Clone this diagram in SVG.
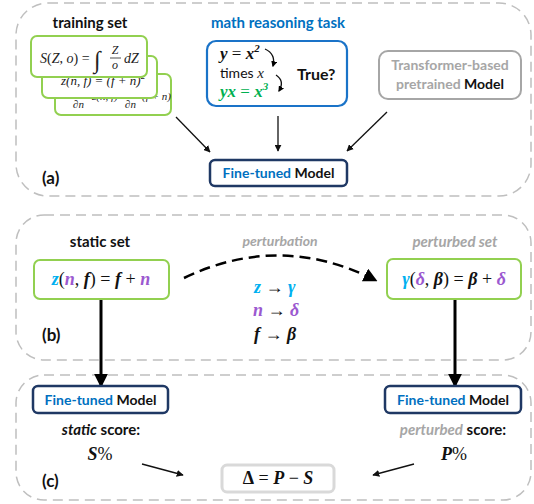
<svg xmlns="http://www.w3.org/2000/svg" width="534" height="504" viewBox="0 0 534 504">
<defs>
<style>
.panel{fill:none;stroke:#bfbfbf;stroke-width:1.5;stroke-dasharray:10 6}
.lbl{font-family:Lato,"Liberation Sans",sans-serif;font-weight:bold;fill:#111}
.m{font-family:"Liberation Serif","DejaVu Serif",serif;font-style:italic;font-weight:bold;fill:#111}
.mr{font-style:normal;font-weight:normal}
.card{fill:#fff;stroke:#92d050;stroke-width:2}
.tm{font-family:"Liberation Serif","DejaVu Serif",serif;fill:#222}
.ft{fill:#fff;stroke:#1f3864;stroke-width:2.5}
.blue{fill:#0070c0}
.cyan{fill:#00b0f0}
.purp{fill:#9b59d0}
.grey{fill:#a6a6a6}
.green{fill:#00b050}
.norm{font-weight:normal}
.thin{fill:none;stroke:#111;stroke-width:1.3}
.thick{fill:none;stroke:#000;stroke-width:3}
</style>
<marker id="ah" viewBox="0 0 10 10" refX="9" refY="5" markerWidth="7" markerHeight="7" orient="auto" markerUnits="userSpaceOnUse">
<path d="M0,0 L10,5 L0,10 Z" fill="#111"/>
</marker>
<marker id="ahb" viewBox="0 0 10 10" refX="8" refY="5" markerWidth="14" markerHeight="14" orient="auto" markerUnits="userSpaceOnUse">
<path d="M0,0 L10,5 L0,10 Z" fill="#000"/>
</marker>
<marker id="ahs" viewBox="0 0 10 10" refX="8" refY="5" markerWidth="6" markerHeight="6" orient="auto" markerUnits="userSpaceOnUse">
<path d="M0,0 L10,5 L0,10 Z" fill="#000"/>
</marker>
</defs>
<rect width="534" height="504" fill="#fff"/>

<!-- panels -->
<rect class="panel" x="16" y="3" width="515" height="193" rx="32"/>
<rect class="panel" x="16" y="215" width="515" height="145" rx="28"/>
<rect class="panel" x="16" y="375" width="515" height="125" rx="28"/>

<!-- connectors -->
<g id="connectors">
<line class="thin" x1="176" y1="117" x2="210" y2="152" marker-end="url(#ah)"/>
<line class="thin" x1="278" y1="116" x2="278" y2="151" marker-end="url(#ah)"/>
<line class="thin" x1="387" y1="112" x2="347" y2="151" marker-end="url(#ah)"/>
<path d="M184,278 Q280,232 375,280" fill="none" stroke="#000" stroke-width="2.5" stroke-dasharray="11 6" marker-end="url(#ahb)"/>
<line class="thick" x1="101" y1="299" x2="101" y2="385" marker-end="url(#ahb)"/>
<line class="thick" x1="455" y1="299" x2="455" y2="385" marker-end="url(#ahb)"/>
<line class="thin" x1="142" y1="464" x2="183" y2="475" marker-end="url(#ah)"/>
<line class="thin" x1="414" y1="464" x2="373" y2="475" marker-end="url(#ah)"/>
</g>

<!-- panel (a) -->
<g id="training-set">
<text class="lbl" x="90" y="28" font-size="15" text-anchor="middle">training set</text>
<rect class="card" x="55" y="74" width="116" height="41" rx="6"/>
<text class="tm" font-size="11" font-style="italic">
<tspan x="73" y="108">∂n</tspan><tspan x="92" y="100">z(n, f) =</tspan><tspan x="125" y="108">∂n</tspan><tspan x="142" y="100">(f + n)</tspan>
</text>
<rect class="card" x="42" y="56" width="115" height="42" rx="6"/>
<text class="tm" x="61" y="85" font-size="13" font-style="italic">z(n, f) = (f + n)<tspan font-size="9" dy="-6">2</tspan></text>
<rect class="card" x="31" y="36" width="116" height="41" rx="6"/>
<text class="tm" font-size="14"><tspan x="40" y="63" font-style="italic">S</tspan><tspan>(</tspan><tspan font-style="italic">Z</tspan><tspan>, </tspan><tspan font-style="italic">o</tspan><tspan>) = </tspan></text>
<text class="tm" x="94" y="68" font-size="24">∫</text>
<text class="tm" x="115" y="54" font-size="12" font-style="italic" text-anchor="middle">Z</text>
<line x1="110" y1="58" x2="121" y2="58" stroke="#222" stroke-width="0.8"/>
<text class="tm" x="115" y="69" font-size="12" font-style="italic" text-anchor="middle">o</text>
<text class="tm" x="124" y="63" font-size="14" font-style="italic">dZ</text>
</g>

<g id="math-task">
<text class="lbl blue" x="278" y="28" font-size="15" text-anchor="middle">math reasoning task</text>
<rect x="207" y="41" width="140" height="65" rx="9" fill="#fff" stroke="#1a73c8" stroke-width="2.2"/>
<text class="m" x="220" y="59" font-size="17">y <tspan class="mr">=</tspan> x<tspan font-size="11" dy="-7">2</tspan></text>
<text class="lbl norm" x="220" y="78" font-size="14">times <tspan class="tm" font-style="italic" font-size="15">x</tspan></text>
<text class="m green" x="220" y="97" font-size="17">yx <tspan class="mr">=</tspan> x<tspan font-size="11" dy="-7">3</tspan></text>
<path d="M265,49 Q276,54 273,66" class="thin" stroke-width="2" marker-end="url(#ahs)"/>
<path d="M276,75 Q285,81 279,91" class="thin" stroke-width="2" marker-end="url(#ahs)"/>
<text class="lbl" x="297" y="80" font-size="16">True?</text>
</g>

<g id="transformer">
<rect x="379" y="51" width="142" height="48" rx="9" fill="#fff" stroke="#a6a6a6" stroke-width="2"/>
<text class="lbl grey" x="450" y="70" font-size="14" text-anchor="middle">Transformer-based</text>
<text class="lbl grey" x="450" y="89" font-size="14" text-anchor="middle">pretrained <tspan fill="#111">Model</tspan></text>
</g>

<g id="finetuned-a">
<rect class="ft" x="210" y="160" width="137" height="26" rx="5"/>
<text class="lbl" x="278.5" y="178" font-size="14" text-anchor="middle"><tspan class="blue">Fine-tuned</tspan> Model</text>
</g>
<text class="lbl" x="42" y="184" font-size="17">(a)</text>

<!-- panel (b) -->
<g id="static-set">
<text class="lbl" x="100" y="247" font-size="15" text-anchor="middle">static set</text>
<rect class="card" x="34" y="260" width="135" height="39" rx="6"/>
<text class="m" x="101" y="285" font-size="18" text-anchor="middle"><tspan class="cyan">z</tspan><tspan class="mr">(</tspan><tspan class="purp">n</tspan><tspan class="mr">,</tspan> f<tspan class="mr">) = </tspan>f<tspan class="mr"> + </tspan><tspan class="purp">n</tspan></text>
</g>

<g id="perturbation">
<text class="lbl grey" x="280" y="246" font-size="14" font-style="italic" text-anchor="middle">perturbation</text>
<text class="m" x="254" y="293" font-size="18"><tspan class="cyan">z</tspan><tspan class="mr"> → </tspan><tspan class="cyan">γ</tspan></text>
<text class="m" x="253" y="316" font-size="18"><tspan class="purp">n</tspan><tspan class="mr"> → </tspan><tspan class="purp">δ</tspan></text>
<text class="m" x="254" y="340" font-size="18">f<tspan class="mr"> → </tspan>β</text>
</g>

<g id="perturbed-set">
<text class="lbl grey" x="455" y="247" font-size="15" font-style="italic" text-anchor="middle">perturbed set</text>
<rect class="card" x="387" y="259" width="134" height="40" rx="6"/>
<text class="m" x="454" y="285" font-size="18" text-anchor="middle"><tspan class="cyan">γ</tspan><tspan class="mr">(</tspan><tspan class="purp">δ</tspan><tspan class="mr">,</tspan> β<tspan class="mr">) = </tspan>β<tspan class="mr"> + </tspan><tspan class="purp">δ</tspan></text>
</g>
<text class="lbl" x="42" y="341" font-size="17">(b)</text>

<!-- panel (c) -->
<g id="finetuned-static">
<rect class="ft" x="33" y="386" width="135" height="27" rx="5"/>
<text class="lbl" x="100.5" y="405" font-size="14" text-anchor="middle"><tspan class="blue">Fine-tuned</tspan> Model</text>
<text class="lbl" x="101" y="435" font-size="15" text-anchor="middle"><tspan font-style="italic">static</tspan> score:</text>
<text class="m" x="100" y="460" font-size="18" text-anchor="middle">S<tspan class="mr">%</tspan></text>
</g>

<g id="finetuned-perturbed">
<rect class="ft" x="385" y="386" width="136" height="27" rx="5"/>
<text class="lbl" x="453" y="405" font-size="14" text-anchor="middle"><tspan class="blue">Fine-tuned</tspan> Model</text>
<text class="lbl" x="453" y="435" font-size="15" text-anchor="middle"><tspan class="grey" font-style="italic">perturbed</tspan> score:</text>
<text class="m" x="454" y="460" font-size="18" text-anchor="middle">P<tspan class="mr">%</tspan></text>
</g>

<g id="delta">
<rect x="222" y="465" width="112" height="27" rx="5" fill="#fff" stroke="#d9d9d9" stroke-width="3"/>
<text class="m" x="278" y="484" font-size="18" text-anchor="middle"><tspan font-style="normal">Δ</tspan><tspan class="mr"> = </tspan>P<tspan class="mr"> − </tspan>S</text>
</g>
<text class="lbl" x="42" y="487" font-size="17">(c)</text>
</svg>
